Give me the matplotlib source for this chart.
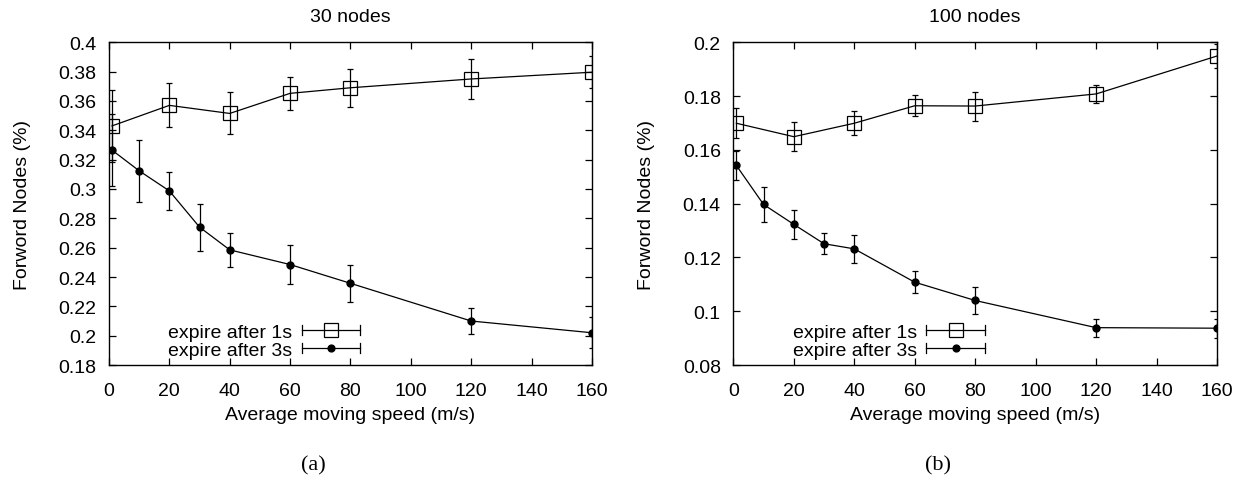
import numpy as np
import matplotlib
matplotlib.use("Agg")
import matplotlib.pyplot as plt
from matplotlib.lines import Line2D
from matplotlib.legend_handler import HandlerBase

plt.rcParams['font.family'] = ['Liberation Sans', 'DejaVu Sans']
plt.rcParams['font.size'] = 14

# speed (m/s)
x_1s = [1, 20, 40, 60, 80, 120, 160]
x_3s = [1, 10, 20, 30, 40, 60, 80, 120, 160]

# 30 nodes
n30_1s = [0.343, 0.357, 0.3515, 0.3652, 0.369, 0.375, 0.3796]
n30_1s_err = [0.0245, 0.015, 0.0143, 0.0114, 0.013, 0.0135, 0.0108]
n30_3s = [0.3265, 0.3124, 0.2987, 0.274, 0.2585, 0.2485, 0.2357, 0.21, 0.202]
n30_3s_err = [0.0245, 0.021, 0.0127, 0.016, 0.0114, 0.0135, 0.0127, 0.0091, 0.0105]

# 100 nodes
n100_1s = [0.1699, 0.1649, 0.1699, 0.1764, 0.1763, 0.1808, 0.1949]
n100_1s_err = [0.0056, 0.0055, 0.0044, 0.0039, 0.0054, 0.0034, 0.0043]
n100_3s = [0.1542, 0.1397, 0.1323, 0.1251, 0.1232, 0.1108, 0.104, 0.0939, 0.0937]
n100_3s_err = [0.0054, 0.0065, 0.0054, 0.004, 0.0052, 0.0041, 0.0051, 0.0034, 0.0036]

labels = ["expire after 1s", "expire after 3s"]


class GnuHandler(HandlerBase):
    # gnuplot style key sample: |----marker----|
    def __init__(self, marker, ms, mfc):
        super().__init__()
        self.marker = marker
        self.ms = ms
        self.mfc = mfc

    def create_artists(self, legend, orig_handle, xdescent, ydescent,
                       width, height, fontsize, trans):
        y = height / 2 - ydescent
        x0, x1 = -xdescent, width - xdescent
        cap = 3.5
        arts = [Line2D([x0, x1], [y, y], color='k', lw=0.9),
                Line2D([x0, x0], [y - cap, y + cap], color='k', lw=0.9),
                Line2D([x1, x1], [y - cap, y + cap], color='k', lw=0.9),
                Line2D([(x0 + x1) / 2], [y], marker=self.marker, ms=self.ms,
                       mfc=self.mfc, mec='k', mew=0.9, ls='none')]
        for a in arts:
            a.set_transform(trans)
        return arts


fig = plt.figure(figsize=(12.44, 4.81), dpi=100)
ax1 = fig.add_axes([0.0876, 0.239, 0.3883, 0.671])
ax2 = fig.add_axes([0.5895, 0.239, 0.3888, 0.671])

panels = [
    (ax1, "30 nodes", n30_1s, n30_1s_err, n30_3s, n30_3s_err, (0.18, 0.4), np.arange(0.18, 0.401, 0.02), "(a)"),
    (ax2, "100 nodes", n100_1s, n100_1s_err, n100_3s, n100_3s_err, (0.08, 0.2), np.arange(0.08, 0.201, 0.02), "(b)"),
]

for ax, title, y1, e1, y3, e3, ylim, yticks, tag in panels:
    ax.errorbar(x_1s, y1, yerr=e1, color='k', lw=0.9, elinewidth=0.9,
                capsize=2.5, capthick=0.9, marker='s', ms=10, mfc='none',
                mec='k', mew=0.9, zorder=3)
    ax.errorbar(x_3s, y3, yerr=e3, color='k', lw=0.9, elinewidth=0.9,
                capsize=2.5, capthick=0.9, marker='o', ms=5, mfc='k',
                mec='k', zorder=3)
    ax.set_xlim(0, 160)
    ax.set_ylim(*ylim)
    ax.set_xticks(range(0, 161, 20))
    ax.set_yticks(yticks)
    ax.set_yticklabels(["%g" % round(v, 2) for v in yticks])
    ax.tick_params(direction='in', top=True, right=True, length=5, width=0.9)
    ax.tick_params(axis='x', pad=12)
    ax.tick_params(axis='y', pad=9)
    for s in ax.spines.values():
        s.set_linewidth(1.0)
    ax.set_title(title, fontsize=14, pad=15)
    ax.set_xlabel("Average moving speed (m/s)", labelpad=5)
    ax.set_ylabel("Forword Nodes (%)", labelpad=20)

    h1 = Line2D([], [])
    h3 = Line2D([], [])
    ax.legend([h1, h3], labels, loc='lower right', bbox_to_anchor=(0.556, -0.034),
              frameon=False, markerfirst=False, handlelength=3.0,
              handletextpad=0.5, labelspacing=0.0, fontsize=14,
              handler_map={h1: GnuHandler('s', 10, 'none'),
                           h3: GnuHandler('o', 5, 'k')})

    pos = ax.get_position()
    fig.text((pos.x0 + pos.x1) / 2 - 0.03, 0.032, tag, ha='center', va='center',
             fontsize=16, family=['Liberation Serif', 'DejaVu Serif'])

fig.savefig("out.png", dpi=100)
